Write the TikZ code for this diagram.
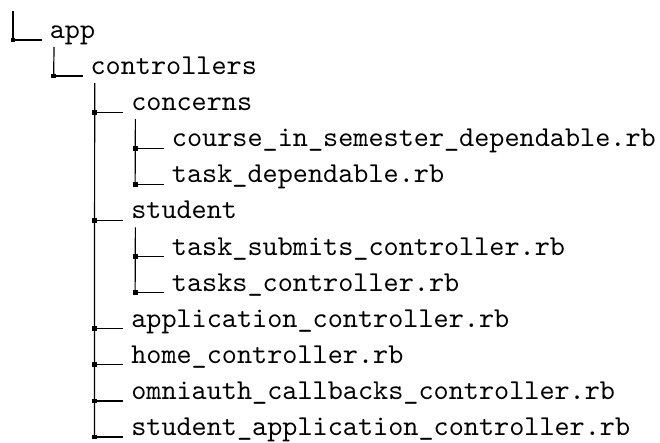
\documentclass[tikz,border=0pt]{standalone}
\usepackage{tikz}

\begin{document}
\begin{tikzpicture}[x=0.5pt,y=-0.5pt,line width=0.6pt,
                    entry/.style={anchor=base west,inner sep=0pt,font=\ttfamily,scale=1.44,transform shape},
                    knot/.style={fill,rectangle,minimum size=2.4pt,inner sep=0pt}]
      \useasboundingbox (0,0) rectangle (660,443);

      % entries: name/level/row/text
      \foreach \name/\lvl/\row/\txt in {app/0/0/app, ctl/1/1/controllers, conc/2/2/concerns,
          cdep/3/3/course\_in\_semester\_dependable.rb, tdep/3/4/task\_dependable.rb,
          stud/2/5/student, tsub/3/6/task\_submits\_controller.rb, tctl/3/7/tasks\_controller.rb,
          actl/2/8/application\_controller.rb, hctl/2/9/home\_controller.rb,
          octl/2/10/omniauth\_callbacks\_controller.rb, sactl/2/11/student\_application\_controller.rb}{
        \pgfmathsetmacro\x{13+40.7*\lvl}
        \pgfmathsetmacro\y{40+36.1*\row}
        \coordinate (j-\name) at (\x,\y);
        \coordinate (t-\name) at (\x+41,\y+7);
        \node[entry] (\name) at (\x+36,\y-1.5) {\txt};
        \draw[shorten >=3.5pt] (j-\name) -- (j-\name -| \name.west);
        \node[knot] (k-\name) at (j-\name) {};
      }

      % vertical branches
      \coordinate (root) at (13,11);
      \draw (root) -- (j-app);
      \draw (t-app) -- (j-ctl);
      \draw (t-ctl) -- (j-sactl);
      \draw (t-conc) -- (j-tdep);
      \draw (t-stud) -- (j-tctl);
\end{tikzpicture}
\end{document}
